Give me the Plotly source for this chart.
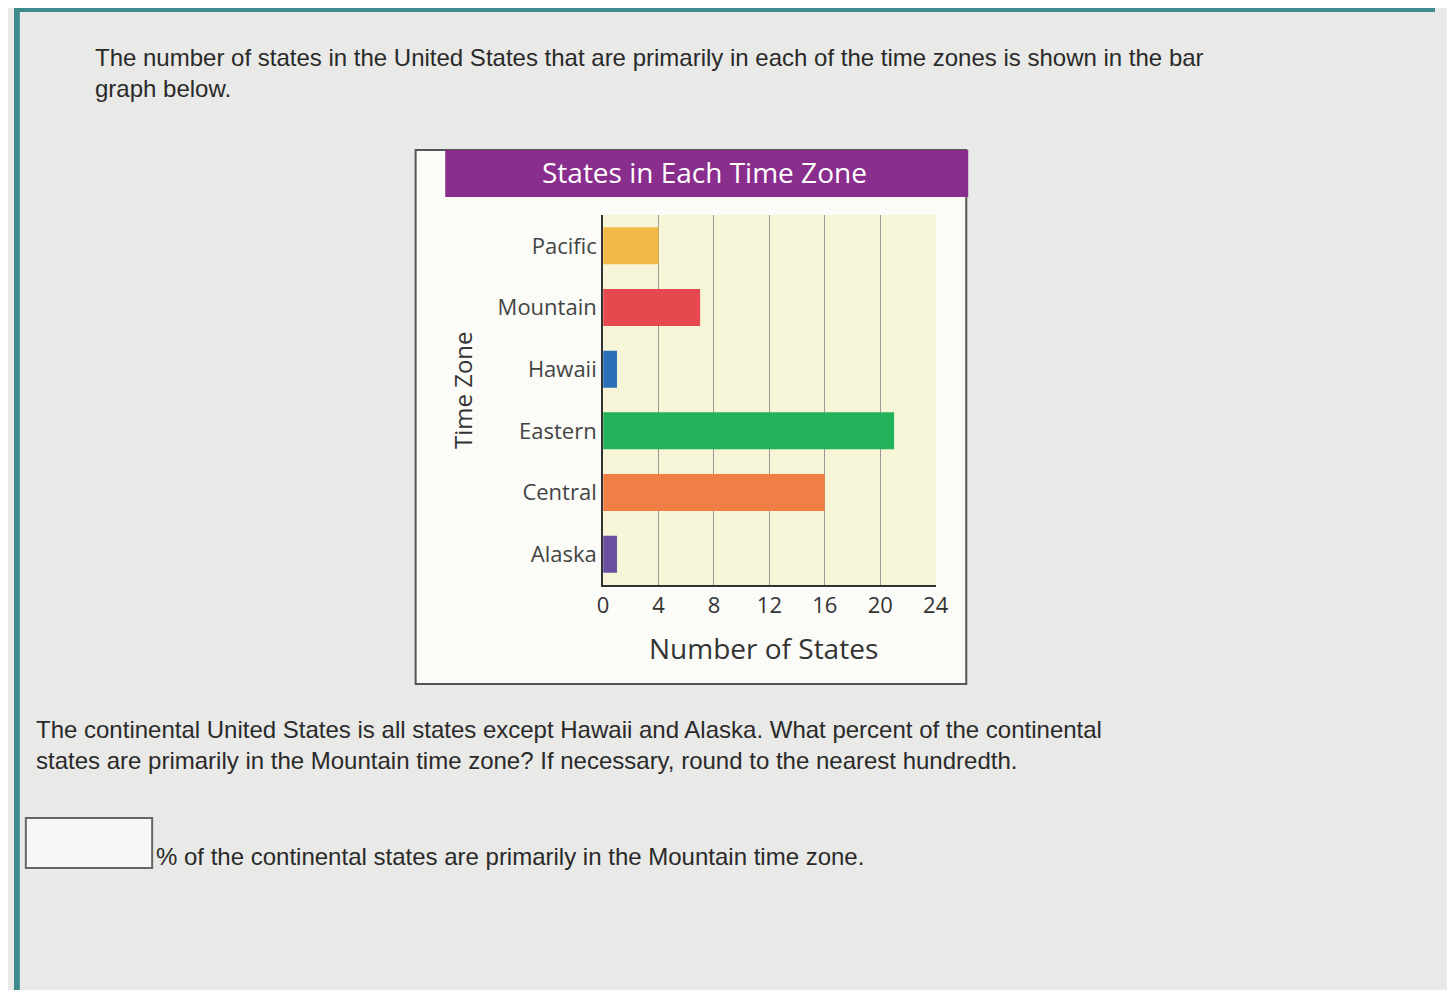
import plotly.graph_objects as go

zones = ["Alaska", "Central", "Eastern", "Hawaii", "Mountain", "Pacific"]
states = [1, 16, 21, 1, 7, 4]
bar_colors = ["#6a4fa0", "#f07f45", "#22b35a", "#2a6fb8", "#e5484f", "#f2b845"]
x_ticks = [0, 4, 8, 12, 16, 20, 24]

W, H = 1440, 982
OFF = 8  # page body margin


def px(x):
    return (x - OFF) / W


def py(y):
    return 1 - (y - OFF) / H


fig = go.Figure(go.Bar(
    x=states, y=zones, orientation="h",
    marker_color=bar_colors, marker_line_width=0, width=0.6,
))

shapes = [
    # teal screen edges
    dict(type="rect", xref="paper", yref="paper", x0=0, x1=px(14), y0=0, y1=1,
         fillcolor="#3f8a8c", line_width=0, layer="below"),
    dict(type="rect", xref="paper", yref="paper", x0=0, x1=1, y0=py(12), y1=1,
         fillcolor="#3f8a8c", line_width=0, layer="below"),
    dict(type="rect", xref="paper", yref="paper", x0=px(14), x1=1, y0=0, y1=py(12),
         fillcolor="#e9e9e7", line_width=0, layer="below"),
    # chart box
    dict(type="rect", xref="paper", yref="paper", x0=px(415), x1=px(973), y0=py(684), y1=py(150),
         fillcolor="#fbfbf8", line=dict(color="#555555", width=2), layer="below"),
    dict(type="rect", xref="paper", yref="paper", x0=px(445), x1=px(975), y0=py(197), y1=py(150),
         fillcolor="#8a2e8e", line_width=0, layer="below"),
    # plot area background
    dict(type="rect", xref="x domain", yref="y domain", x0=0, x1=1, y0=0, y1=1,
         fillcolor="#f6f5d8", line_width=0, layer="below"),
    # answer box
    dict(type="rect", xref="paper", yref="paper", x0=px(20), x1=px(148), y0=py(868), y1=py(818),
         fillcolor="#f7f7f5", line=dict(color="#666666", width=2)),
]

text_font = dict(family="Liberation Sans", size=24, color="#2a2a2a")
annotations = [
    dict(text="States in Each Time Zone", x=px(708), y=py(172), xanchor="center", yanchor="middle",
         font=dict(family="Open Sans", size=28, color="white")),
    dict(text="Time Zone", x=px(462), y=py(390), textangle=-90, xanchor="center", yanchor="middle",
         font=dict(family="Open Sans", size=24, color="#333333")),
    dict(text="Number of States", x=px(768), y=py(648), xanchor="center", yanchor="middle",
         font=dict(family="Open Sans", size=28, color="#333333")),
    dict(text="The number of states in the United States that are primarily in each of the time zones is shown in the bar<br>graph below.",
         x=px(88), y=py(42), xanchor="left", yanchor="top", align="left", font=text_font),
    dict(text="The continental United States is all states except Hawaii and Alaska. What percent of the continental<br>states are primarily in the Mountain time zone? If necessary, round to the nearest hundredth.",
         x=px(28), y=py(714), xanchor="left", yanchor="top", align="left", font=text_font),
    dict(text="% of the continental states are primarily in the Mountain time zone.",
         x=px(150), y=py(856), xanchor="left", yanchor="middle", font=text_font),
]
for a in annotations:
    a.update(xref="paper", yref="paper", showarrow=False)

fig.update_layout(
    width=W, height=H, margin=dict(l=0, r=0, t=0, b=0),
    paper_bgcolor="#e9e9e7", plot_bgcolor="rgba(0,0,0,0)",
    showlegend=False, shapes=shapes, annotations=annotations, bargap=0.35,
    xaxis=dict(domain=[px(605), px(942)], range=[0, 24], tickvals=x_ticks,
               showgrid=True, gridcolor="#9a9a9a", gridwidth=1,
               showline=True, linecolor="#333333", linewidth=2, mirror=False,
               tickfont=dict(family="Open Sans", size=22, color="#333333"), zeroline=False),
    yaxis=dict(domain=[py(585), py(215)], categoryorder="array", categoryarray=zones,
               showline=True, linecolor="#333333", linewidth=2,
               tickfont=dict(family="Open Sans", size=22, color="#444444")),
)

fig.write_html("out.html")
